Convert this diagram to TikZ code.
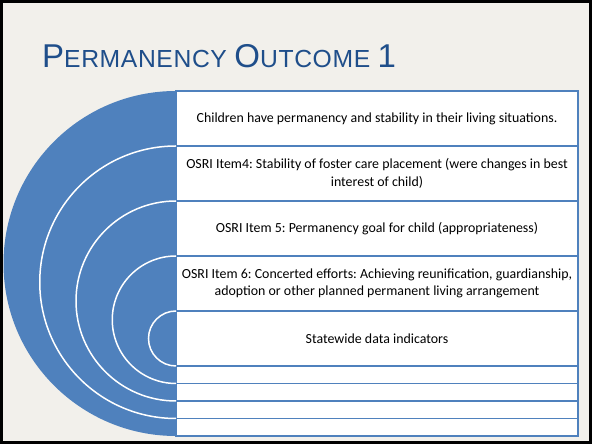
\documentclass[tikz,border=0pt]{standalone}
\usepackage{fontspec}
\setmainfont{Carlito}
\newfontfamily\titlefont[LetterSpace=2.5]{Liberation Sans}
\usetikzlibrary{positioning}
\definecolor{slideblue}{RGB}{79,129,189}
\definecolor{titleblue}{RGB}{31,78,138}
\definecolor{paper}{RGB}{242,240,235}
\newcommand{\capbig}[1]{{\fontsize{33}{33}\selectfont #1}}
\newcommand{\capsmall}[1]{{\fontsize{24.7}{24.7}\selectfont #1}}

\begin{document}
\frenchspacing
\begin{tikzpicture}[x=1pt,y=1pt,
  item/.style={draw=slideblue, line width=1.2pt, fill=white, minimum width=402pt,
    minimum height=55pt, inner sep=0pt, outer sep=0pt, align=center,
    font=\fontsize{13.9}{17.5}\selectfont},
  thinitem/.style={item, minimum height=17.5pt}]
\useasboundingbox (0,0) rectangle (592,444);
\fill[black] (0,0) rectangle (592,444);
\fill[paper] (3,3) rectangle (589,441);

\node[anchor=base west, inner sep=0pt, text=titleblue, font=\titlefont] (title) at (42,376.3)
  {\capbig{P}\capsmall{ERMANENCY }\capbig{O}\capsmall{UTCOME }\capbig{1}};

\node[item, anchor=north west] (b1) at (176,353)
  {Children have permanency and stability in their living situations.};
\node[item, below=0pt of b1] (b2)
  {OSRI Item4: Stability of foster care placement (were changes in best\\interest of child)};
\node[item, below=0pt of b2] (b3)
  {OSRI Item 5: Permanency goal for child (appropriateness)};
\node[item, below=0pt of b3] (b4)
  {OSRI Item 6: Concerted efforts: Achieving reunification, guardianship,\\adoption or other planned permanent living arrangement};
\node[item, below=0pt of b4] (b5) {Statewide data indicators};
\node[thinitem, below=0pt of b5] (t1) {};
\node[thinitem, below=0pt of t1] (t2) {};
\node[thinitem, below=0pt of t2] (t3) {};
\node[thinitem, below=0pt of t3] (t4) {};

\fill[slideblue] (b1.north west) arc[start angle=90, end angle=270, radius=172.5] -- cycle;
\foreach \b/\r in {b2/136.25, b3/100, b4/63.75, b5/27.5}
  \draw[white, line width=1.5pt] (\b.north west) arc[start angle=90, end angle=270, radius=\r];
\end{tikzpicture}
\end{document}
